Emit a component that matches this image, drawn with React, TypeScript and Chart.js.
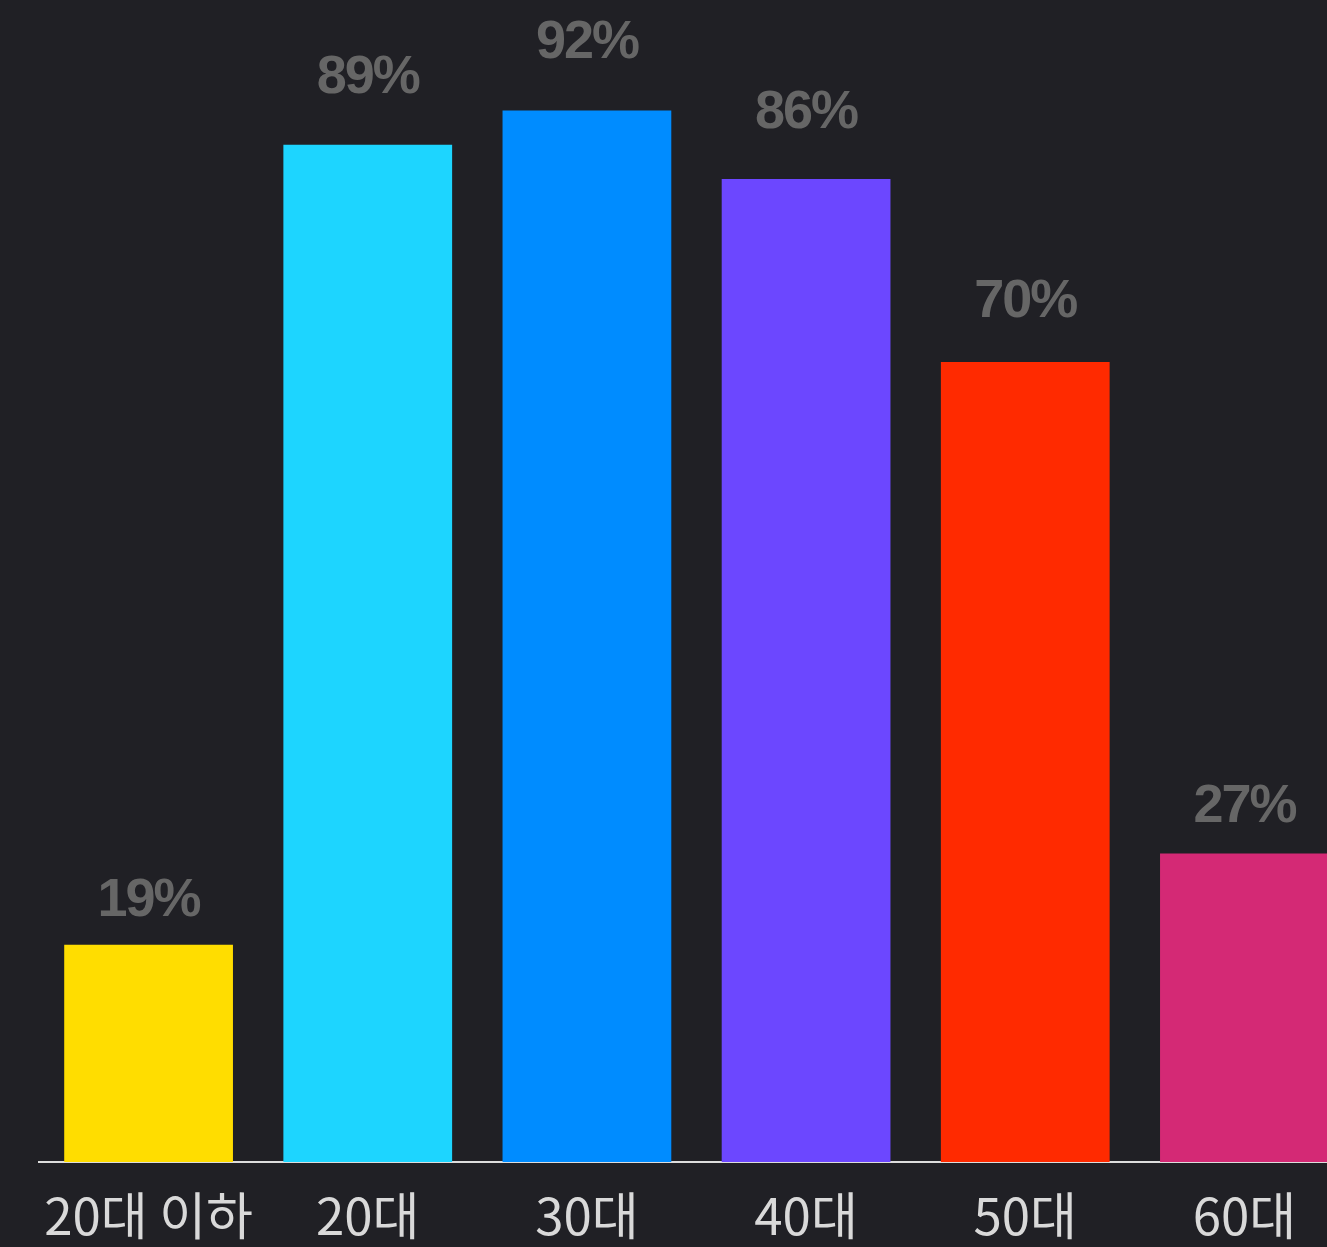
import React, { useEffect, useRef } from "react";
import { Chart, registerables } from "chart.js";

Chart.register(...registerables);

const categories = ["20대 이하", "20대", "30대", "40대", "50대", "60대"];
const values = [19, 89, 92, 86, 70, 27];
const barColors = ["#FFDD00", "#1DD5FF", "#008CFF", "#6C47FF", "#FF2A00", "#D42975"];
const valueLabels = ["19%", "89%", "92%", "86%", "70%", "27%"];

const BG = "#202025";

const labelPlugin = {
  id: "customLabels",
  afterDatasetsDraw(chart: any) {
    const ctx = chart.ctx;
    const meta = chart.getDatasetMeta(0);
    const xScale = chart.scales.x;
    ctx.save();
    ctx.textAlign = "center";
    ctx.textBaseline = "alphabetic";
    // value labels
    ctx.fillStyle = "#666666";
    ctx.font = "bold 54px 'Liberation Sans', Arial, sans-serif";
    try { (ctx as any).letterSpacing = "-2px"; } catch (e) {}
    meta.data.forEach((bar: any, i: number) => {
      const gap = 22 + 0.334 * values[i];
      ctx.fillText(valueLabels[i], bar.x, bar.y - gap);
    });
    try { (ctx as any).letterSpacing = "0px"; } catch (e) {}
    // category labels
    ctx.fillStyle = "#D9D9D9";
    ctx.font = "51px 'Noto Sans CJK KR', sans-serif";
    categories.forEach((c, i) => {
      const x = xScale.getPixelForValue(i);
      ctx.fillText(c, x, chart.chartArea.bottom + 73);
    });
    ctx.restore();
  },
};

export default function App() {
  const ref = useRef<HTMLCanvasElement | null>(null);
  useEffect(() => {
    if (!ref.current) return;
    const chart = new Chart(ref.current, {
      type: "bar",
      data: {
        labels: categories,
        datasets: [
          {
            data: values,
            backgroundColor: barColors,
            borderWidth: 0,
            barPercentage: 0.77,
            categoryPercentage: 1,
          },
        ],
      },
      options: {
        animation: false,
        responsive: false,
        devicePixelRatio: 1,
        layout: { padding: { left: 39, right: 0, top: 19, bottom: 85 } },
        plugins: { legend: { display: false }, tooltip: { enabled: false } },
        scales: {
          x: {
            grid: { display: false, drawTicks: false },
            border: { display: true, color: "#DDDDDD", width: 2 },
            ticks: { display: false },
          },
          y: {
            display: false,
            min: 0,
            max: 100,
          },
        },
      },
      plugins: [labelPlugin],
    });
    return () => chart.destroy();
  }, []);
  return (
    <div
      style={{
        position: "fixed",
        left: 0,
        top: 0,
        width: 1327,
        height: 1247,
        overflow: "hidden",
        background: BG,
      }}
    >
      <canvas ref={ref} width={1354} height={1247} style={{ display: "block" }} />
    </div>
  );
}
